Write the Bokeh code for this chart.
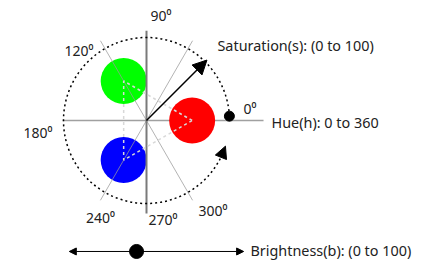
import math
from bokeh.plotting import figure
from bokeh.models import Range1d, Arrow, NormalHead
from bokeh.core.properties import value
from bokeh.embed import file_html
from bokeh.resources import INLINE

# ---- data ----
hue_labels = ["0⁰", "90⁰", "120⁰", "180⁰", "240⁰", "270⁰", "300⁰"]
axis_angles = [0, 60, 90, 120]           # gray guide lines through centre (deg)
color_hues = [0, 120, 240]               # hue of each colour disc (deg)
color_sat = [55, 55, 55]                 # saturation of each disc (0-100)
color_fill = ["#ff0000", "#00ff00", "#0000ff"]
sat_max = 100                            # saturation circle radius
sat_arrow = 103                          # saturation arrow length
sat_arrow_angle = 45
arc_start, arc_end = 3, 338              # dotted hue arc (deg)
brightness_range = [-93, 117]
brightness_value = -12
captions = ["Hue(h): 0 to 360", "Saturation(s): (0 to 100)", "Brightness(b): (0 to 100)"]

K = 0.83  # px per unit
W, H = 430, 265
CX, CY = 146, 120  # pixel position of the centre
p = figure(width=W, height=H, output_backend="svg", toolbar_location=None,
           x_range=Range1d(-CX / K, (W - CX) / K),
           y_range=Range1d((CY - H) / K, CY / K),
           min_border=0)
p.axis.visible = False
p.grid.visible = False
p.outline_line_color = None
p.background_fill_color = "white"
p.border_fill_color = "white"

rad = math.radians

# horizontal guide line (under discs)
p.segment(x0=[-101], y0=[0], x1=[141], y1=[0], line_color="#a0a0a0", line_width=1.5)

# colour discs
cx = [s * math.cos(rad(h)) for h, s in zip(color_hues, color_sat)]
cy = [s * math.sin(rad(h)) for h, s in zip(color_hues, color_sat)]
p.circle(x=cx, y=cy, radius=27.7, fill_color=color_fill, line_color=None)

# diagonal guides over discs
diag = [a for a in axis_angles if a not in (0, 90)]
L = 111
p.segment(x0=[-L * math.cos(rad(a)) for a in diag], y0=[-L * math.sin(rad(a)) for a in diag],
          x1=[L * math.cos(rad(a)) for a in diag], y1=[L * math.sin(rad(a)) for a in diag],
          line_color="#9a9a9a", line_width=1, line_alpha=0.75)
# vertical
p.segment(x0=[0], y0=[-112], x1=[0], y1=[108], line_color="#7a7a7a", line_width=2)

# dashed triangle between disc centres
p.line(x=cx + [cx[0]], y=cy + [cy[0]], line_color="#d8d8d8", line_width=1.5, line_dash="3 3")

# dotted hue arc
p.arc(x=[0], y=[0], radius=sat_max, start_angle=rad(arc_start), end_angle=rad(arc_end),
      direction="anticlock", line_color="black", line_width=1.5, line_dash="2 3")
a0, a1 = rad(arc_end - 4), rad(arc_end + 4)
p.add_layout(Arrow(x_start=sat_max * math.cos(a0), y_start=sat_max * math.sin(a0),
                   x_end=sat_max * math.cos(a1), y_end=sat_max * math.sin(a1),
                   line_color=None,
                   end=NormalHead(size=12, fill_color="black", line_color="black")))
p.scatter(x=[sat_max * math.cos(rad(arc_start))], y=[sat_max * math.sin(rad(arc_start))],
          size=10, color="black")

# saturation arrow
p.add_layout(Arrow(x_start=0, y_start=0,
                   x_end=sat_arrow * math.cos(rad(sat_arrow_angle)),
                   y_end=sat_arrow * math.sin(rad(sat_arrow_angle)),
                   line_color="black", line_width=1.5,
                   end=NormalHead(size=14, fill_color="black", line_color="black")))

# brightness slider
by = -157.8
p.add_layout(Arrow(x_start=brightness_range[0], y_start=by, x_end=brightness_range[1], y_end=by,
                   line_color="black", line_width=1,
                   start=NormalHead(size=7, fill_color="black", line_color="black"),
                   end=NormalHead(size=7, fill_color="black", line_color="black")))
p.scatter(x=[brightness_value], y=[by], size=14, color="black")

# labels
font = value("Noto Sans")
lab_x = [116.9, 4.8, -63.9, -113.3, -55.4, 2.4, 62.7]
lab_y = [14.5, 126.5, 84.3, -14.5, -116.9, -119.3, -108.4]
lab_align = ["left", "left", "right", "right", "center", "left", "left"]
p.text(x=lab_x, y=lab_y, text=hue_labels, text_align=lab_align, text_baseline="middle",
       text_font=font, text_font_size="14px", text_color="#222222")
p.text(x=[150.6, 85.5, 125.3], y=[-2.4, 90.4, -156.6], text=captions,
       text_align="left", text_baseline="middle",
       text_font=font, text_font_size="14.4px", text_color="#222222")

open("out.html", "w").write(file_html(p, INLINE))
